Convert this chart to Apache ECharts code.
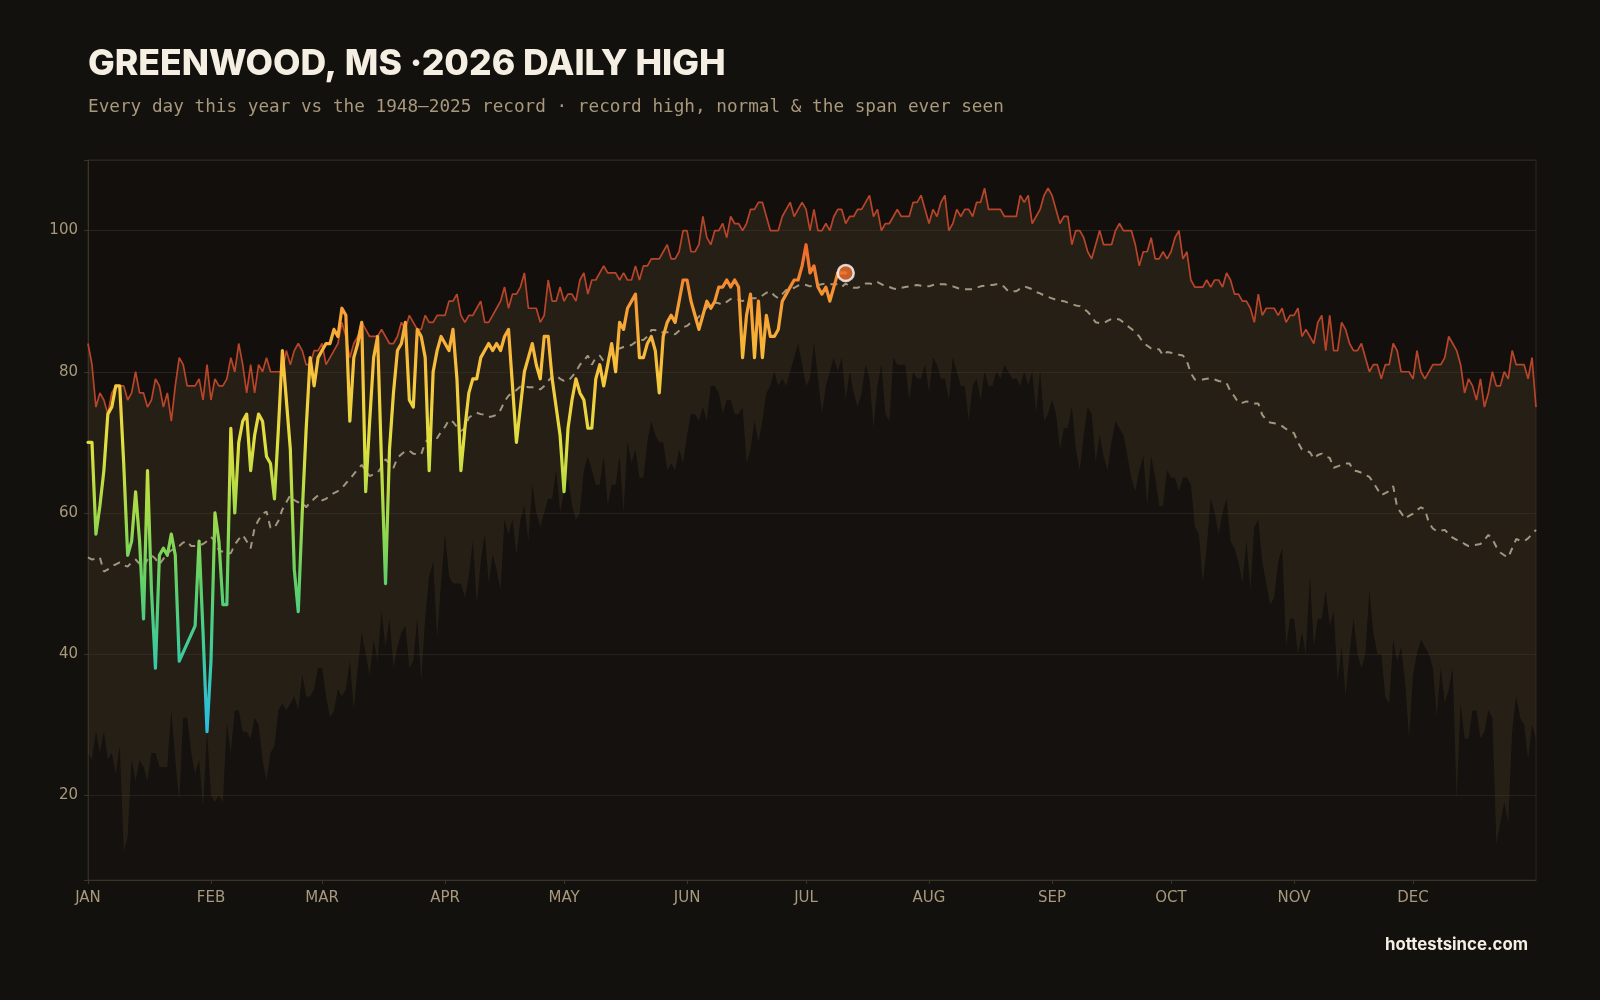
<!DOCTYPE html>
<html>
<head>
<meta charset="utf-8">
<script src="https://cdn.jsdelivr.net/npm/echarts@6/dist/echarts.min.js"></script>
<style>
  html, body { margin: 0; padding: 0; background: #13110d; }
  #chart { width: 1600px; height: 1000px; }
</style>
</head>
<body>
<div id="chart"></div>
<script>
// ---- data (day index 0 = Jan 1) ----
const MONTHS = ['JAN','FEB','MAR','APR','MAY','JUN','JUL','AUG','SEP','OCT','NOV','DEC'];
const MONTH_START = [0,31,59,90,120,151,181,212,243,273,304,334];

const RECORD_HIGH = [
84,81,75,77,76,74,77,78,78,78,76,77,80,77,77,75,76,79,78,75,77,73,78,82,81,78,78,78,79,76,81,76,79,78,78,79,82,80,84,81,77,81,77,81,80,82,80,80,80,80,83,81,83,84,83,81,81,83,83,84,81,82,83,84,
87,85,82,84,85,87,86,85,85,85,86,85,84,84,85,87,86,88,87,86,86,88,87,87,88,88,88,90,90,91,88,87,88,88,89,90,87,87,88,89,90,92,89,91,91,92,94,89,89,89,87,88,93,90,90,92,90,91,91,90,93,94,91,
93,93,94,95,94,94,94,93,94,93,93,95,93,95,95,96,96,96,97,98,96,96,97,100,100,97,97,98,102,99,98,100,100,101,99,102,101,101,100,101,103,103,104,104,102,100,100,100,102,103,104,102,103,104,103,100,103,100,100,101,100,102,103,
103,101,102,102,103,103,104,105,102,103,100,101,101,102,103,102,102,102,104,104,105,103,101,103,102,104,105,100,101,103,102,103,103,102,104,104,106,103,103,103,103,102,102,102,102,105,104,105,101,102,103,105,106,105,103,101,102,102,98,100,100,99,97,
96,98,100,98,98,98,100,101,100,100,100,98,95,97,97,99,96,96,97,96,97,99,100,96,97,93,92,92,92,93,92,93,93,92,94,93,91,91,90,90,89,87,91,88,89,89,89,88,89,87,88,88,89,85,86,85,84,87,
88,83,88,83,83,87,86,84,83,83,84,82,80,81,81,79,81,81,84,83,80,80,80,79,83,80,79,80,81,81,81,82,85,84,83,81,77,79,78,76,79,75,77,80,78,78,80,79,83,81,81,81,79,82,75
];

const RECORD_LOW = [
26,25,29,26,29,25,26,23,27,12,14,25,22,25,24,22,26,26,24,24,24,32,25,19,31,31,26,23,25,18,29,20,19,20,19,30,26,32,32,29,29,28,31,30,25,22,26,27,32,33,32,33,34,32,37,34,34,35,38,38,34,31,32,35,
34,35,39,32,38,43,40,37,42,39,46,41,45,38,41,43,44,38,39,45,36,45,51,53,42,50,57,51,50,50,50,48,51,56,47,53,57,50,54,52,49,59,57,59,54,59,61,56,64,60,58,60,62,62,66,60,63,65,61,59,60,66,68,
66,64,64,68,61,64,64,68,60,70,67,69,65,65,70,73,71,70,70,66,67,66,69,67,71,74,74,73,75,73,78,78,77,74,76,76,74,74,75,67,69,73,70,73,77,78,80,78,79,78,80,82,84,81,78,79,84,79,74,78,80,82,80,
82,76,80,77,75,77,81,79,72,78,81,74,73,82,81,81,81,76,80,79,79,81,77,82,81,79,79,76,82,80,78,78,73,78,79,76,80,78,78,80,79,81,80,79,79,78,80,78,80,74,80,73,74,76,74,69,72,72,75,69,66,71,75,
74,67,71,68,66,70,73,72,71,68,65,63,66,68,61,68,65,61,61,66,65,65,63,65,65,64,58,57,50,55,62,60,57,60,62,56,55,53,50,56,49,58,59,53,50,47,48,53,55,41,45,45,40,43,40,51,41,45,
45,49,44,46,36,41,34,40,45,40,38,40,49,43,40,40,34,33,42,39,41,36,28,37,40,42,41,40,38,31,38,33,35,38,19,33,28,28,32,32,28,29,32,31,13,16,19,16,29,34,31,30,25,30,28
];

const NORMAL = [
53.7,53.4,53.5,53.7,51.7,52,52.5,52.7,53,52.6,52.4,53,53.4,52.8,52.4,53.4,54,53.5,52.7,53.5,54.3,54.7,55,55.3,55.8,56,55.3,55.3,55.4,55.6,56,56.6,56,54.7,54.5,54.3,54.3,55.5,56.3,56.9,56,55,57.9,59,59.9,60.2,57.9,57.9,58.9,60.5,61.5,62.5,61.8,61.5,61.5,60.8,61.5,62,62.5,61.8,62,62.5,62.8,63.1,
63.5,64.2,64.8,65.5,66.2,66.8,66,65.2,65.5,65.7,66.5,67.6,67,66.4,67.8,68.3,68.8,68.8,68.4,68.3,68.3,70,70.6,70.9,70.6,71.5,72.2,73.2,72.9,72.2,71.6,72,73.5,73.9,74.2,74,73.9,73.6,73.7,73.9,74.6,75.8,76.6,77.1,77.4,77.9,78,77.8,77.8,77.8,77.5,78,78.7,79.3,79.5,79,78.7,78.7,79.3,80,81,81.6,82.3,
81,82,82.3,81.5,81.8,82.5,83,83.3,83.5,83.6,83.8,84.2,84.5,84.5,85,85.9,85.9,85.5,85.6,85.6,85.6,85.3,85.8,86.3,86.5,87,87.2,87.8,88.5,89.1,89.6,89.8,89.7,89.5,89.9,90.3,90.4,90.2,90,90.3,90.4,90.4,90.4,90.8,91.2,91.4,90.8,90.4,91,91.6,91.7,91.9,92.2,92.4,92.3,92.1,92.2,92.3,92.4,92.5,92.4,92.4,92.4,
92,92.5,92.1,91.9,91.9,92.2,92.5,92.5,92.4,92.7,92.4,92.1,92,91.8,91.7,91.9,92,92.1,92.2,92.3,92.2,92.1,92.1,92.3,92.5,92.4,92.4,92.2,92.1,91.9,91.7,91.7,91.7,91.7,91.9,92.1,92.2,92.3,92.3,92.4,92.4,92,91.4,91.4,91.4,91.8,92.1,91.9,91.7,91.3,91.1,90.8,90.6,90.4,90.2,90.1,90,89.8,89.6,89.4,89.3,88.9,88.5,
87.8,87,86.9,86.9,87.2,87.5,87.5,87.4,87,86.5,86.1,85.6,85,84.1,83.7,83.3,83.2,83.2,82.3,82.8,82.7,82.6,82.4,82.3,81.5,79.8,78.9,78.9,78.9,79,79.1,78.9,78.7,78.6,78.4,77.2,76.5,75.6,75.6,75.8,75.7,75.5,75.5,73.9,73.2,72.8,72.7,72.6,72.3,71.9,71.6,71.3,70,69,68.8,68.6,67.7,68.2,
68.4,68,67.8,66.4,66.6,66.8,67,67,66,65.9,65.7,65.4,65.1,64.3,63.4,62.5,62.8,63.1,63.8,60.8,60,59.2,59.6,59.9,60.4,60.8,60.5,58.6,57.8,57.4,57.5,57.6,57,56.5,56.2,56,55.6,55.3,55.4,55.5,55.6,56.2,56.9,56.3,55.2,54.4,54,53.7,55,56.3,56.1,56,56.4,57,57.6
];

const TEMP_2026 = [
70,70,57,61,66,74,75,78,78,67,54,56,63,56,45,66,49,38,54,55,54,57,54,39,null,null,null,44,56,43,29,39,60,56,47,47,72,60,70,73,74,66,71,74,73,68,67,62,72,83,76,69,52,46,60,72,82,78,82,83,84,84,86,85,
89,88,73,82,84,87,63,73,82,85,67,50,69,77,83,84,87,76,75,86,85,82,66,80,83,85,84,83,86,79,66,72,77,79,79,82,83,84,83,84,83,85,86,78,70,75,80,82,84,81,79,85,85,79,75,71,63,72,76,79,77,76,72,
72,79,81,78,81,84,80,87,86,89,90,91,82,82,84,85,83,77,85,87,88,87,90,93,93,90,88,86,88,90,89,90,92,92,93,92,93,92,82,88,91,82,90,82,88,85,85,86,90,91,92,93,93,95,98,94,95,92,91,92,90,92,94,94,94
];

// ---- derived structures for the library ----
const DAYS = RECORD_HIGH.map((_, i) => String(i));
const SPAN = RECORD_HIGH.map((h, i) => h - RECORD_LOW[i]);
let lastIdx = TEMP_2026.length - 1;
while (lastIdx > 0 && TEMP_2026[lastIdx] == null) lastIdx--;
const LATEST = [[String(lastIdx), TEMP_2026[lastIdx]]];

const isMonthStart = (idx) => MONTH_START.indexOf(idx) !== -1;

const AXIS_COLOR = '#3b3328';
const LABEL_COLOR = '#a8987c';

const chart = echarts.init(document.getElementById('chart'), null, { renderer: 'canvas' });
chart.setOption({
  animation: false,
  backgroundColor: '#13110d',
  grid: {
    left: 88, right: 64, top: 160, bottom: 120,
    show: true, backgroundColor: '#120f0c', borderColor: '#2f281f', borderWidth: 1
  },
  graphic: [
    { type: 'text', style: { x: 88, y: 64, text: 'GREENWOOD, MS ·2026 DAILY HIGH', fill: '#f4eee3',
        font: '800 35.6px Inter', align: 'left', verticalAlign: 'middle' } },
    { type: 'text', style: { x: 88, y: 107.5, text: 'Every day this year vs the 1948–2025 record · record high, normal & the span ever seen',
        fill: '#a8987c', font: '17.7px "DejaVu Sans Mono"', align: 'left', verticalAlign: 'middle' } },
    { type: 'text', style: { x: 1528, y: 945, text: 'hottestsince.com', fill: '#f4eee3',
        font: '700 16.8px Inter', align: 'right', verticalAlign: 'middle' } }
  ],
  xAxis: {
    type: 'category', data: DAYS, boundaryGap: false,
    axisLine: { onZero: false, lineStyle: { color: AXIS_COLOR, width: 1 } },
    axisTick: { show: true, interval: (i) => isMonthStart(i), length: 4, lineStyle: { color: AXIS_COLOR } },
    axisLabel: {
      interval: (i) => isMonthStart(i),
      formatter: (v, i) => MONTHS[MONTH_START.indexOf(Number(v))] || '',
      color: LABEL_COLOR, fontSize: 15, fontFamily: 'DejaVu Sans', margin: 11
    },
    splitLine: { show: false }
  },
  yAxis: {
    type: 'value', min: 8, max: 110,
    axisLine: { show: true, lineStyle: { color: AXIS_COLOR } },
    axisTick: { show: true, length: 4, lineStyle: { color: AXIS_COLOR } },
    axisLabel: {
      formatter: (v) => (v % 20 === 0 ? String(v) : ''),
      color: LABEL_COLOR, fontSize: 15, fontFamily: 'DejaVu Sans', margin: 10,
      padding: [4, 0, 0, 0]
    },
    splitLine: { show: true, lineStyle: { color: '#2a241c', width: 1 } }
  },
  visualMap: {
    type: 'continuous', show: false, seriesIndex: 4, dimension: 1, min: 30, max: 100,
    inRange: { color: ['#2bbde0', '#3ccb9e', '#5fd068', '#a2da48', '#e0e040', '#f8c43c', '#f59a34', '#ee5a28'] }
  },
  series: [
    { name: 'record low', type: 'line', data: RECORD_LOW, stack: 'span', symbol: 'none',
      lineStyle: { width: 0 }, areaStyle: { color: 'rgba(30,26,20,0.35)', origin: 'start' }, silent: true, z: 1 },
    { name: 'span', type: 'line', data: SPAN, stack: 'span', symbol: 'none',
      lineStyle: { width: 0 }, areaStyle: { color: 'rgba(60,49,34,0.66)' }, silent: true, z: 1 },
    { name: 'record high', type: 'line', data: RECORD_HIGH, symbol: 'none',
      lineStyle: { color: '#b8452a', width: 1.7 }, z: 2 },
    { name: 'normal', type: 'line', data: NORMAL, symbol: 'none',
      lineStyle: { color: '#a3967e', width: 2, type: [7, 6] }, z: 3 },
    { name: '2026', type: 'line', data: TEMP_2026, symbol: 'none', connectNulls: true,
      lineStyle: { width: 3.2, join: 'round', cap: 'round' }, z: 4 },
    { name: 'latest', type: 'scatter', data: LATEST, symbol: 'circle', symbolSize: 16,
      itemStyle: { color: '#f07030', borderColor: '#ffffff', borderWidth: 2.5 }, z: 5 }
  ]
});
</script>
</body>
</html>
